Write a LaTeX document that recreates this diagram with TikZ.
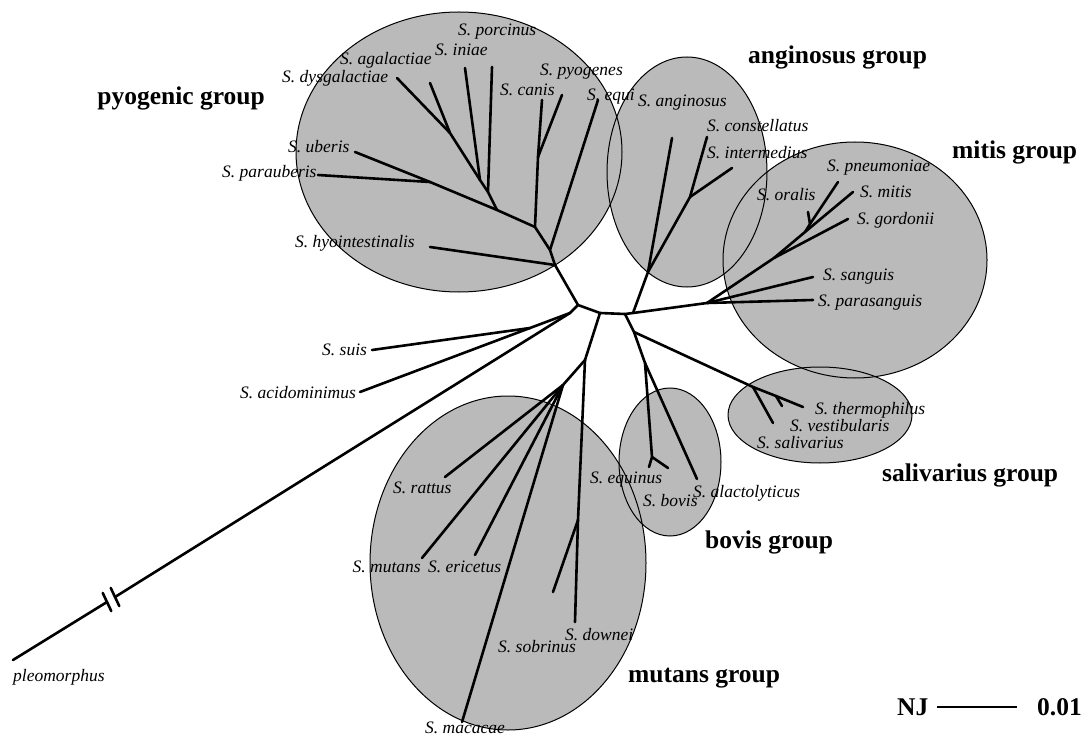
\documentclass[tikz,border=0pt]{standalone}
\usepackage{fontspec}
\setmainfont{Liberation Serif}
\begin{document}
\begin{tikzpicture}[x=1pt,y=-1pt,
  grpfill/.style={fill=black!27},
  grpline/.style={draw=black,line width=1pt},
  br/.style={line width=2.6pt,line cap=round,line join=round},
  sp/.style={font=\fontsize{17.5}{18}\selectfont\itshape,inner sep=0pt,anchor=west},
  gl/.style={font=\fontsize{25.5}{26}\selectfont\bfseries,inner sep=0pt,anchor=west}]
\useasboundingbox (0,0) rectangle (1082,738);
\fill[white] (0,0) rectangle (1082,738);
% group ellipses
\foreach \cx/\cy/\rx/\ry in {459/152/163/140, 687/172/80/115, 855/260/132/118, 820/415/92/48, 670/462/51/74, 508/563/138/167}
  \fill[grpfill] (\cx,\cy) ellipse [x radius=\rx pt, y radius=\ry pt];
\foreach \cx/\cy/\rx/\ry in {459/152/163/140, 687/172/80/115, 855/260/132/118, 820/415/92/48, 670/462/51/74, 508/563/138/167}
  \draw[grpline] (\cx,\cy) ellipse [x radius=\rx pt, y radius=\ry pt];
% internal nodes
\coordinate (A) at (578,305);
\coordinate (B) at (600,313);
\coordinate (CB) at (625,314);
\coordinate (C) at (633,313);
\coordinate (L1) at (570,313);
\coordinate (L2) at (530,328);
\coordinate (P1) at (555,265);
\coordinate (P2) at (550,250);
\coordinate (P3) at (535,227);
\coordinate (P8) at (538,157);
\coordinate (P4) at (497,210);
\coordinate (P4b) at (430,182);
\coordinate (P5) at (488,192);
\coordinate (P7) at (480,180);
\coordinate (P6) at (450,133);
\coordinate (G1) at (648,272);
\coordinate (G2) at (690,197);
\coordinate (M1) at (707,303);
\coordinate (M2) at (774,258);
\coordinate (M3) at (805,232);
\coordinate (MO) at (810,224);
\coordinate (V0) at (634,332);
\coordinate (V1) at (645,363);
\coordinate (V2) at (652,457);
\coordinate (S1) at (753,387);
\coordinate (S2) at (776,396);
\coordinate (U1) at (585,360);
\coordinate (U2) at (563,385);
\coordinate (U3) at (578,520);
% leaf tips
\coordinate (thyo) at (430,247);
\coordinate (tequi) at (598,100);
\coordinate (tcanis) at (542,100);
\coordinate (tpyog) at (562,95);
\coordinate (tuber) at (355,152);
\coordinate (tparaub) at (318,175);
\coordinate (tporc) at (492,67);
\coordinate (tiniae) at (465,68);
\coordinate (tagal) at (430,83);
\coordinate (tdysg) at (397,78);
\coordinate (tang) at (672,138);
\coordinate (tcons) at (707,137);
\coordinate (tinter) at (732,168);
\coordinate (tparas) at (813,300);
\coordinate (tsang) at (813,277);
\coordinate (tgord) at (848,219);
\coordinate (tmitis) at (853,192);
\coordinate (tpneu) at (838,182);
\coordinate (toral) at (808,212);
\coordinate (tequin) at (649,467);
\coordinate (tbovis) at (668,468);
\coordinate (talac) at (697,479);
\coordinate (tsaliv) at (773,423);
\coordinate (tvest) at (782,406);
\coordinate (ttherm) at (803,407);
\coordinate (trattus) at (445,477);
\coordinate (tmutans) at (422,558);
\coordinate (teric) at (475,555);
\coordinate (tmacac) at (462,722);
\coordinate (tsobr) at (553,592);
\coordinate (tdown) at (575,622);
\coordinate (tsuis) at (372,350);
\coordinate (tacid) at (360,392);
\coordinate (BU) at (115,597);
\coordinate (BL) at (107,602);
\coordinate (tpleo) at (13,660);
% branches
\draw[br] (P1) -- (A) -- (B) -- (CB) -- (C) -- (M1);
\draw[br] (A) -- (L1) -- (L2) -- (tsuis);
\draw[br] (L2) -- (tacid);
\draw[br] (L1) -- (BU);
\draw[br] (BL) -- (tpleo);
\draw[br] ([shift={(-4.3,-9.1)}]BU) -- ([shift={(4.3,9.1)}]BU);
\draw[br] ([shift={(-4.3,-9.1)}]BL) -- ([shift={(4.3,9.1)}]BL);
% pyogenic
\draw[br] (P1) -- (thyo);
\draw[br] (P1) -- (P2) -- (tequi);
\draw[br] (P2) -- (P3) -- (P8) -- (tcanis);
\draw[br] (P8) -- (tpyog);
\draw[br] (P3) -- (P4) -- (P4b) -- (tuber);
\draw[br] (P4b) -- (tparaub);
\draw[br] (P4) -- (P5) -- (tporc);
\draw[br] (P5) -- (P7) -- (tiniae);
\draw[br] (P7) -- (P6) -- (tagal);
\draw[br] (P6) -- (tdysg);
% anginosus
\draw[br] (C) -- (G1) -- (tang);
\draw[br] (G1) -- (G2) -- (tcons);
\draw[br] (G2) -- (tinter);
% mitis
\draw[br] (M1) -- (tparas);
\draw[br] (M1) -- (tsang);
\draw[br] (M1) -- (M2) -- (tgord);
\draw[br] (M2) -- (M3) -- (tmitis);
\draw[br] (M3) -- (MO) -- (tpneu);
\draw[br] (MO) -- (toral);
% bovis and salivarius
\draw[br] (CB) -- (V0) -- (V1) -- (V2) -- (tequin);
\draw[br] (V2) -- (tbovis);
\draw[br] (V1) -- (talac);
\draw[br] (V0) -- (S1) -- (tsaliv);
\draw[br] (S1) -- (S2) -- (tvest);
\draw[br] (S2) -- (ttherm);
% mutans
\draw[br] (B) -- (U1) -- (U2) -- (trattus);
\draw[br] (U2) -- (tmutans);
\draw[br] (U2) -- (teric);
\draw[br] (U2) -- (tmacac);
\draw[br] (U1) -- (U3) -- (tdown);
\draw[br] (U3) -- (tsobr);
% species labels
\node[sp] (lporc) at (458,32) {S. porcinus};
\node[sp] (liniae) at (435,50) {S. iniae};
\node[sp] (lagal) at (340,60) {S. agalactiae};
\node[sp] (ldysg) at (282,78) {S. dysgalactiae};
\node[sp] (lpyog) at (540,72) {S. pyogenes};
\node[sp] (lcanis) at (500,90) {S. canis};
\node[sp] (lequi) at (587,97) {S. equi};
\node[sp] (luber) at (288,147) {S. uberis};
\node[sp] (lparaub) at (222,173) {S. parauberis};
\node[sp] (lhyo) at (295,243) {S. hyointestinalis};
\node[sp] (lang) at (638,103) {S. anginosus};
\node[sp] (lcons) at (707,126) {S. constellatus};
\node[sp] (linter) at (707,153) {S. intermedius};
\node[sp] (lpneu) at (827,168) {S. pneumoniae};
\node[sp] (lmitis) at (860,192) {S. mitis};
\node[sp] (loral) at (757,195) {S. oralis};
\node[sp] (lgord) at (857,220) {S. gordonii};
\node[sp] (lsang) at (823,277) {S. sanguis};
\node[sp] (lparas) at (818,303) {S. parasanguis};
\node[sp] (lsuis) at (322,350) {S. suis};
\node[sp] (lacid) at (240,393) {S. acidominimus};
\node[sp] (ltherm) at (815,410) {S. thermophilus};
\node[sp] (lvest) at (790,426) {S. vestibularis};
\node[sp] (lsaliv) at (757,443) {S. salivarius};
\node[sp] (lequin) at (590,480) {S. equinus};
\node[sp] (lalac) at (693,493) {S. alactolyticus};
\node[sp] (lbovis) at (643,501) {S. bovis};
\node[sp] (lrattus) at (393,488) {S. rattus};
\node[sp,anchor=east] (lmutans) at (421,567) {S. mutans};
\node[sp] (leric) at (428,567) {S. ericetus};
\node[sp] (ldown) at (565,635) {S. downei};
\node[sp] (lsobr) at (498,647) {S. sobrinus};
\node[sp] (lmacac) at (425,728) {S. macacae};
\node[sp] (lpleo) at (13,677) {pleomorphus};
% group labels
\node[gl,anchor=east] (gpyo) at (265,98) {pyogenic group};
\node[gl] (gang) at (748,57) {anginosus group};
\node[gl] (gmitis) at (952,152) {mitis group};
\node[gl] (gsaliv) at (882,475) {salivarius group};
\node[gl] (gbovis) at (705,542) {bovis group};
\node[gl] (gmutans) at (628,678) {mutans group};
% scale
\node[gl] (nj) at (897,707) {NJ};
\node[gl] (scl) at (1037,707) {0.01};
\coordinate (s1) at (937,707);
\coordinate (s2) at (1017,707);
\draw[line width=2pt] (s1) -- (s2);
\end{tikzpicture}
\end{document}
